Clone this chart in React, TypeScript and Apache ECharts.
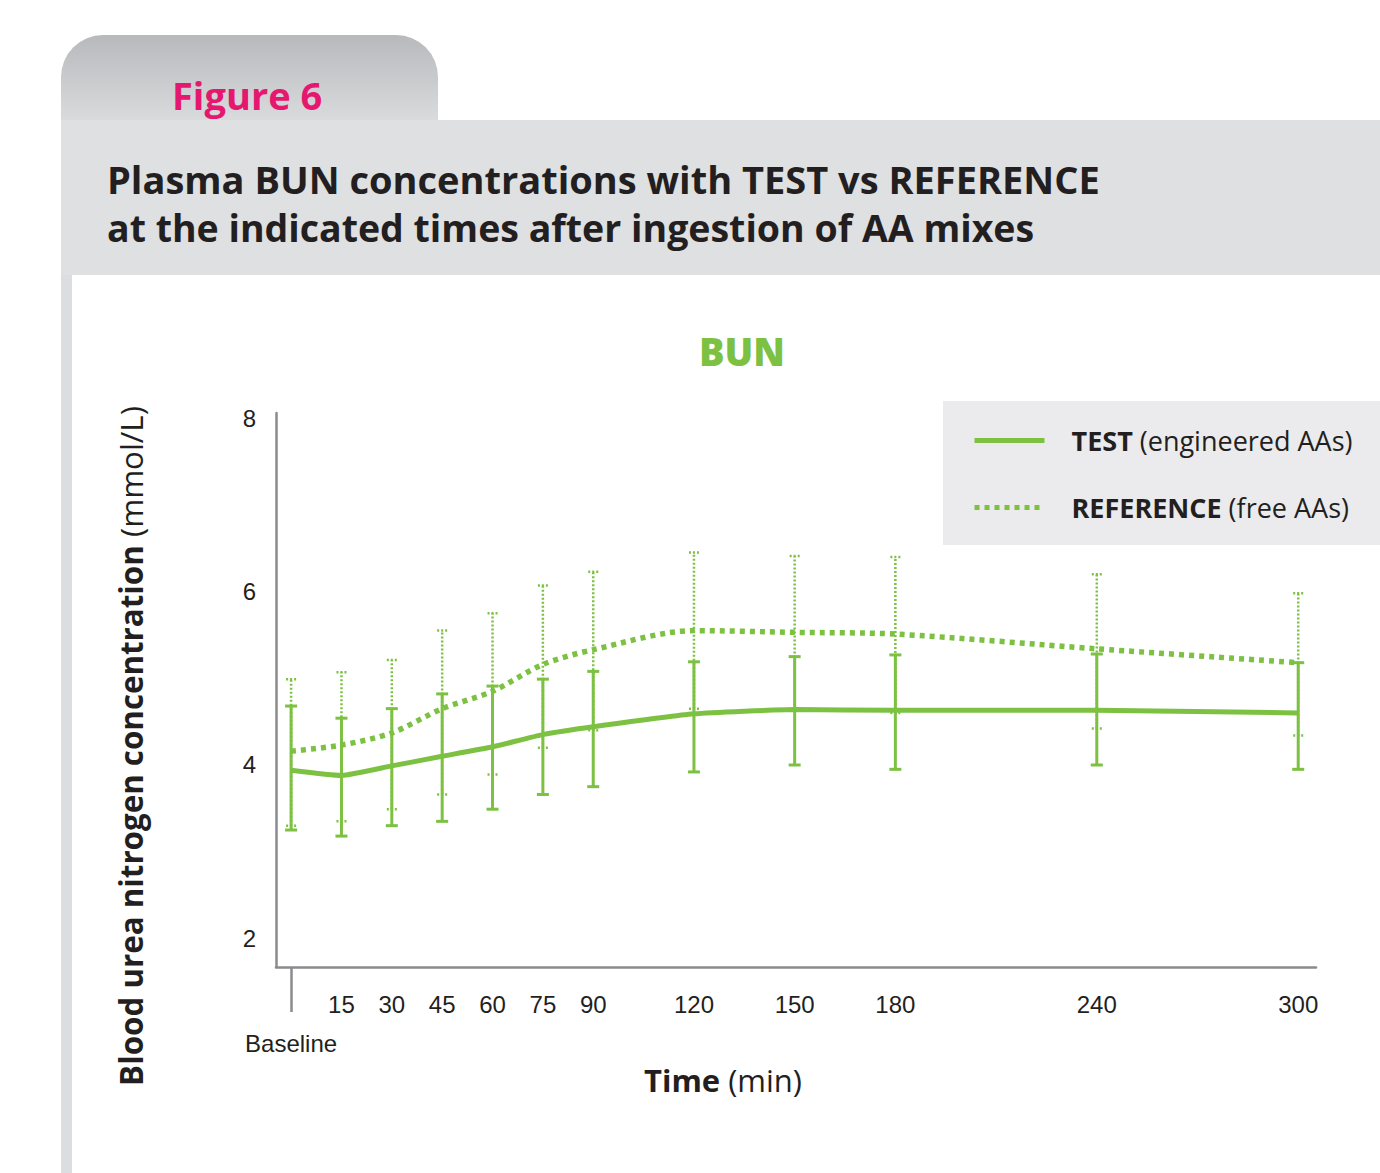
import React, { useEffect, useRef } from "react";
import * as echarts from "echarts";

const times = [0, 15, 30, 45, 60, 75, 90, 120, 150, 180, 240, 300];
const testMean = [3.94, 3.88, 3.99, 4.1, 4.21, 4.35, 4.44, 4.59, 4.64, 4.63, 4.63, 4.6];
const testLow = [3.25, 3.18, 3.3, 3.35, 3.49, 3.66, 3.75, 3.92, 4.0, 3.95, 4.0, 3.95];
const testHigh = [4.68, 4.54, 4.65, 4.82, 4.91, 4.99, 5.08, 5.19, 5.25, 5.27, 5.28, 5.18];
const refMean = [4.16, 4.23, 4.37, 4.65, 4.85, 5.16, 5.33, 5.55, 5.53, 5.51, 5.34, 5.18];
const refLow = [3.3, 3.35, 3.49, 3.66, 3.89, 4.2, 4.4, 4.65, 4.64, 4.6, 4.42, 4.34];
const refHigh = [4.99, 5.07, 5.21, 5.55, 5.75, 6.07, 6.23, 6.45, 6.41, 6.4, 6.2, 5.98];
const xTickLabels = [15, 30, 45, 60, 75, 90, 120, 150, 180, 240, 300];
const baselineTick = [0];
const yTickLabels = [2, 4, 6, 8];

const GREEN = "#7cc142";
const DARK = "#231f20";
const AXIS = "#8a8b8e";
const HEAD = "Open Sans";
const NUM = "Liberation Sans";

function errorRender(dotted: boolean) {
  return (params: any, api: any) => {
    const x = api.value(0);
    const pLo = api.coord([x, api.value(1)]);
    const pHi = api.coord([x, api.value(2)]);
    const hw = dotted ? 5 : 6;
    const style: any = {
      stroke: GREEN,
      lineWidth: dotted ? 2.5 : 3,
      fill: null,
      lineDash: dotted ? [2, 2] : null,
    };
    return {
      type: "group",
      children: [
        { type: "line", shape: { x1: pLo[0], y1: pLo[1], x2: pHi[0], y2: pHi[1] }, style },
        { type: "line", shape: { x1: pLo[0] - hw, y1: pLo[1], x2: pLo[0] + hw, y2: pLo[1] }, style },
        { type: "line", shape: { x1: pHi[0] - hw, y1: pHi[1], x2: pHi[0] + hw, y2: pHi[1] }, style },
      ],
    };
  };
}

export default function App() {
  const ref = useRef<HTMLDivElement>(null);
  useEffect(() => {
    if (!ref.current) return;
    const chart = echarts.init(ref.current, null, { renderer: "svg" });
    const richTitle = (size: number) => ({
      b: { fontFamily: HEAD, fontWeight: "bold", fontSize: size, fill: DARK, color: DARK },
      r: { fontFamily: HEAD, fontWeight: "normal", fontSize: size, fill: DARK, color: DARK },
    });
    const option: any = {
      animation: false,
      backgroundColor: "#ffffff",
      graphic: [
        {
          type: "rect",
          shape: { x: 61, y: 35, width: 377, height: 86, r: [42, 42, 0, 0] },
          style: {
            fill: new echarts.graphic.LinearGradient(0, 0, 0, 1, [
              { offset: 0, color: "#b8b9bc" },
              { offset: 1, color: "#dadbdd" },
            ]),
          },
          z: 0,
        },
        { type: "rect", shape: { x: 61, y: 120, width: 1319, height: 155 }, style: { fill: "#dfe0e2" }, z: 0 },
        { type: "rect", shape: { x: 61, y: 275, width: 11, height: 898 }, style: { fill: "#dcdde0" }, z: 0 },
        { type: "rect", shape: { x: 943, y: 401, width: 437, height: 144 }, style: { fill: "#ebebed" }, z: 0 },
        {
          type: "text",
          x: 172,
          y: 95,
          style: { text: "Figure 6", fill: "#e5176f", font: `bold 38px ${HEAD}`, textVerticalAlign: "middle" },
          z: 5,
        },
        {
          type: "text",
          x: 107,
          y: 179,
          style: {
            text: "Plasma BUN concentrations with TEST vs REFERENCE",
            fill: DARK,
            font: `bold 38px ${HEAD}`,
            textVerticalAlign: "middle",
          },
          z: 5,
        },
        {
          type: "text",
          x: 107,
          y: 227,
          style: {
            text: "at the indicated times after ingestion of AA mixes",
            fill: DARK,
            font: `bold 37.5px ${HEAD}`,
            textVerticalAlign: "middle",
          },
          z: 5,
        },
        {
          type: "text",
          x: 742,
          y: 351,
          style: { text: "BUN", fill: GREEN, font: `800 38px ${HEAD}`, textAlign: "center", textVerticalAlign: "middle" },
          z: 5,
        },
        {
          type: "text",
          x: 131,
          y: 746,
          rotation: Math.PI / 2,
          style: {
            text: "{b|Blood urea nitrogen concentration }{r|(mmol/L)}",
            textAlign: "center",
            textVerticalAlign: "middle",
            rich: richTitle(31.3),
          },
          z: 5,
        },
        {
          type: "text",
          x: 723,
          y: 1080,
          style: {
            text: "{b|Time }{r|(min)}",
            textAlign: "center",
            textVerticalAlign: "middle",
            rich: richTitle(31),
          },
          z: 5,
        },
      ],
      legend: {
        left: 967,
        top: 422,
        orient: "vertical",
        itemWidth: 70,
        itemHeight: 14,
        itemGap: 40,
        itemStyle: { opacity: 0 },
        data: [
          { name: "TEST", lineStyle: { width: 5, type: "solid" }, itemStyle: { opacity: 0 } },
          { name: "REFERENCE", lineStyle: { width: 5, type: [5, 5] }, itemStyle: { opacity: 0 } },
        ],
        formatter: (name: string) =>
          name === "TEST" ? "{b|TEST }{r|(engineered AAs)}" : "{b|REFERENCE }{r|(free AAs)}",
        textStyle: {
          padding: [0, 0, 0, 22],
          rich: {
            b: { fontFamily: HEAD, fontWeight: "bold", fontSize: 27, color: DARK, lineHeight: 32 },
            r: { fontFamily: HEAD, fontWeight: "normal", fontSize: 27, color: DARK, lineHeight: 32 },
          },
        },
      },
      grid: { left: 276, right: 64, top: 413, bottom: 206 },
      xAxis: [
        {
          type: "value",
          min: -4.5,
          max: 305.3,
          axisLine: { show: true, onZero: false, lineStyle: { color: AXIS, width: 2.5 } },
          axisTick: { show: false },
          splitLine: { show: false },
          axisLabel: { customValues: xTickLabels, margin: 25, fontSize: 24, fontFamily: NUM, color: DARK },
        },
        {
          type: "value",
          position: "bottom",
          min: -4.5,
          max: 305.3,
          axisLine: { show: false, onZero: false },
          axisTick: { show: true, customValues: baselineTick, length: 45, lineStyle: { color: AXIS, width: 2.5 } },
          splitLine: { show: false },
          axisLabel: {
            customValues: baselineTick,
            formatter: () => "Baseline",
            margin: 64,
            fontSize: 24,
            fontFamily: NUM,
            color: DARK,
          },
        },
      ],
      yAxis: {
        type: "value",
        min: 1.67,
        max: 8.06,
        axisLine: { show: true, onZero: false, lineStyle: { color: AXIS, width: 2.5 } },
        axisTick: { show: false },
        splitLine: { show: false },
        axisLabel: { customValues: yTickLabels, margin: 20, fontSize: 24, fontFamily: NUM, color: DARK },
      },
      series: [
        {
          type: "custom",
          name: "REF error",
          renderItem: errorRender(true),
          encode: { x: 0, y: [1, 2] },
          data: times.map((t, i) => [t, refLow[i], refHigh[i]]),
          clip: false,
          z: 2,
        },
        {
          type: "custom",
          name: "TEST error",
          renderItem: errorRender(false),
          encode: { x: 0, y: [1, 2] },
          data: times.map((t, i) => [t, testLow[i], testHigh[i]]),
          clip: false,
          z: 3,
        },
        {
          type: "line",
          name: "REFERENCE",
          data: times.map((t, i) => [t, refMean[i]]),
          symbol: "none",
          smooth: 0.3,
          lineStyle: { color: GREEN, width: 5.5, type: [5, 5], cap: "butt" },
          itemStyle: { color: GREEN },
          z: 4,
        },
        {
          type: "line",
          name: "TEST",
          data: times.map((t, i) => [t, testMean[i]]),
          symbol: "none",
          smooth: 0.15,
          lineStyle: { color: GREEN, width: 5, type: "solid" },
          itemStyle: { color: GREEN },
          z: 5,
        },
      ],
    };
    chart.setOption(option);
    return () => chart.dispose();
  }, []);
  return (
    <div
      ref={ref}
      style={{ position: "fixed", left: 0, top: 0, width: 1380, height: 1173 }}
    />
  );
}
